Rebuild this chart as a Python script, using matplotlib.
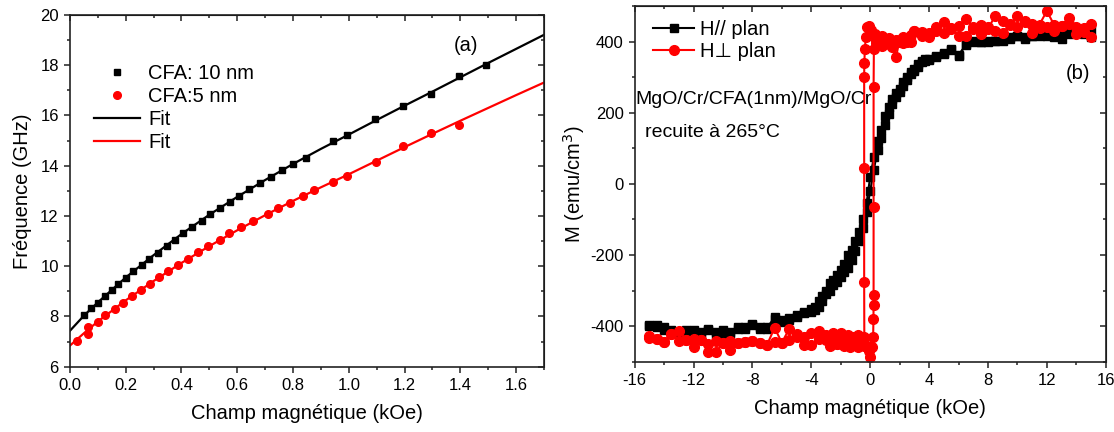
import matplotlib
matplotlib.use("Agg")
import matplotlib.pyplot as plt
from matplotlib.ticker import MultipleLocator

plt.rcParams['font.family'] = ['Liberation Sans', 'DejaVu Sans']
plt.rcParams['axes.unicode_minus'] = False

# (a) resonance frequency vs field
h10 = [0.051, 0.075, 0.099, 0.125, 0.149, 0.173, 0.2, 0.227, 0.257, 0.284, 0.314,
       0.347, 0.376, 0.404, 0.436, 0.472, 0.504, 0.538, 0.573, 0.607, 0.643, 0.681,
       0.72, 0.759, 0.8, 0.846, 0.944, 0.995, 1.093, 1.195, 1.294, 1.395, 1.493]
f10 = [8.06, 8.33, 8.55, 8.80, 9.06, 9.29, 9.55, 9.81, 10.05, 10.30, 10.54,
       10.80, 11.05, 11.31, 11.55, 11.80, 12.06, 12.31, 12.55, 12.81, 13.07, 13.31,
       13.56, 13.81, 14.06, 14.31, 15.00, 15.22, 15.86, 16.39, 16.86, 17.58, 17.99]
h5 = [0.024, 0.063, 0.066, 0.099, 0.125, 0.161, 0.191, 0.221, 0.254, 0.287, 0.320,
      0.352, 0.386, 0.422, 0.458, 0.496, 0.538, 0.571, 0.612, 0.657, 0.709, 0.747,
      0.789, 0.834, 0.875, 0.944, 0.995, 1.097, 1.195, 1.294, 1.395]
f5 = [7.04, 7.30, 7.57, 7.79, 8.05, 8.31, 8.55, 8.80, 9.06, 9.31, 9.56,
      9.81, 10.05, 10.30, 10.56, 10.81, 11.06, 11.31, 11.55, 11.80, 12.07, 12.31,
      12.51, 12.80, 13.04, 13.36, 13.60, 14.16, 14.79, 15.32, 15.62]
hfit = [0, 0.05, 0.1, 0.2, 0.3, 0.4, 0.5, 0.6, 0.7, 0.8, 0.9, 1.0,
        1.1, 1.2, 1.3, 1.4, 1.5, 1.6, 1.7]
fit10 = [7.43, 8.03, 8.56, 9.55, 10.44, 11.28, 12.05, 12.76, 13.43, 14.07, 14.67, 15.24,
         15.82, 16.39, 16.95, 17.52, 18.09, 18.65, 19.21]
fit5 = [6.84, 7.33, 7.80, 8.64, 9.41, 10.13, 10.80, 11.43, 12.03, 12.60, 13.14, 13.66,
        14.20, 14.74, 15.27, 15.79, 16.30, 16.81, 17.31]

# (b) hysteresis loops
hb = [-15, -14.5, -14, -13.5, -13, -12.5, -12, -11.5, -11, -10.5, -10, -9.5, -9, -8.5,
      -8, -7.5, -7, -6.5, -6, -5.5, -5, -4.5, -4,
      -3.75, -3.5, -3.25, -3, -2.75, -2.5, -2.25, -2, -1.75, -1.5, -1.25, -1, -0.75,
      -0.5, -0.25, 0, 0.25, 0.5, 0.75, 1, 1.25, 1.5, 1.75, 2, 2.25, 2.5, 2.75, 3,
      3.25, 3.5, 3.75, 4,
      4.5, 5, 5.5, 6, 6.5, 7, 7.5, 8, 8.5, 9, 9.5, 10, 10.5, 11, 11.5, 12, 12.5, 13,
      13.5, 14, 14.5, 15]
mb_up = [-398, -402, -412, -416, -420, -416, -412, -426, -407, -416, -421, -421, -402, -407,
         -398, -402, -407, -374, -388, -383, -374, -364, -360,
         -356, -346, -330, -310, -300, -285, -275, -262, -248, -237, -215, -190, -160,
         -125, -80, -20, 40, 95, 130, 165, 195, 225, 245, 258, 275, 292, 308, 318,
         328, 342, 346, 348,
         358, 365, 379, 362, 389, 398, 398, 398, 403, 403, 408, 417, 408, 417, 417, 426, 412, 408,
         422, 431, 426, 436]
mb_down = [-400, -398, -402, -412, -416, -412, -416, -416, -412, -421, -412, -416, -407, -402,
           -393, -407, -402, -380, -383, -378, -370, -360, -352,
           -345, -330, -315, -300, -280, -271, -255, -242, -225, -200, -185, -160, -135,
           -100, -55, 20, 75, 120, 152, 190, 215, 238, 255, 268, 285, 300, 315, 322,
           338, 346, 350, 352,
           360, 368, 375, 360, 393, 403, 398, 403, 403, 408, 412, 417, 412, 417, 422, 417, 418, 422,
           426, 428, 420, 412]

hr_down = [15, 14.5, 14, 13.5, 13, 12.5, 12, 11.5, 11, 10.5, 10, 9.5, 9, 8.5, 8, 7.5, 7,
           6.5, 6, 5.5, 5, 4.5, 4, 3.5, 3,
           2.75, 2.5, 2.25, 2, 1.75, 1.5, 1.25, 1,
           0.8, 0.6, 0.4, 0.2, 0.05,
           -0.1, -0.2, -0.3, -0.36, -0.4, -0.41, -0.41, -0.41, -0.4, -0.45,
           -0.6, -0.8, -1, -1.2, -1.4, -1.6, -1.8, -2,
           -2.25, -2.5, -2.75, -3,
           -3.5, -4, -4.5, -5, -5.5, -6, -6.5, -7, -7.5, -8, -8.5, -9, -9.5, -10, -10.5,
           -11, -11.5, -12, -12.5, -13, -13.5, -14, -14.5, -15]
mr_down = [414, 426, 422, 467, 445, 431, 441, 439, 450, 459, 441, 448, 424, 430, 441, 420, 436,
           417, 417, 436, 425, 430, 412, 427, 431,
           398, 410, 395, 405, 356, 400, 392, 408,
           388, 410, 396, 420, 432,
           445, 440, 412, 380, 340, 300, 45, -275, -430, -455,
           -440, -425, -448, -430, -460, -435, -445, -420,
           -450, -438, -455, -440,
           -437, -454, -431, -422, -408, -446, -445, -452, -446, -443, -445, -447, -443, -447, -441,
           -450, -439, -460, -439, -413, -422, -444, -435, -428]
hr_up = [-15, -14.5, -14, -13.5, -13, -12.5, -12, -11.5, -11, -10.5, -10, -9.5, -9, -8.5, -8,
         -7.5, -7, -6.5, -6, -5.5, -5, -4.5, -4, -3.5, -3,
         -2.75, -2.5, -2.25, -2, -1.75, -1.5, -1.25, -1,
         -0.8, -0.6, -0.4, -0.2, -0.1, 0, 0.1, 0.2,
         0.22, 0.23, 0.23, 0.23, 0.23, 0.25, 0.3, 0.4,
         0.6, 0.8, 1,
         1.25, 1.5, 1.75, 2, 2.25, 2.5, 2.75, 3,
         3.5, 4, 4.5, 5, 5.5, 6, 6.5, 7, 7.5, 8, 8.5, 9, 9.5, 10, 10.5, 11, 11.5, 12, 12.5,
         13, 13.5, 14, 14.5, 15]
mr_up = [-432, -435, -444, -422, -441, -439, -435, -439, -472, -474, -447, -468, -447, -445, -443,
         -446, -452, -405, -446, -440, -430, -454, -418, -415, -425,
         -445, -420, -450, -430, -455, -425, -448, -440,
         -460, -430, -450, -455, -470, -487, -460, -430,
         -380, -340, -312, -65, 271, 380, 420, 405,
         395, 415, 400,
         410, 385, 405, 398, 412, 400, 418, 431,
         415, 425, 440, 455, 438, 445, 464, 440, 448, 436, 473, 459, 450, 471, 455, 424, 448, 486,
         446, 445, 450, 441, 438, 450]

fig = plt.figure(figsize=(11.14, 4.32), dpi=100)
ax1 = fig.add_axes([0.0628, 0.1512, 0.4255, 0.8141])
ax2 = fig.add_axes([0.5697, 0.1627, 0.4229, 0.8234])


def style_axes(ax, xmaj, xmin, ymaj, ymin):
    ax.xaxis.set_major_locator(MultipleLocator(xmaj))
    ax.xaxis.set_minor_locator(MultipleLocator(xmin))
    ax.yaxis.set_major_locator(MultipleLocator(ymaj))
    ax.yaxis.set_minor_locator(MultipleLocator(ymin))
    ax.tick_params(which='both', direction='out', labelsize=12, width=1.1, color='#222222')
    ax.tick_params(which='major', length=4.5)
    ax.tick_params(which='minor', length=2.5)
    for s in ax.spines.values():
        s.set_linewidth(1.2)
        s.set_color('#222222')
    top = ax.secondary_xaxis('top')
    top.xaxis.set_major_locator(MultipleLocator(xmaj))
    top.xaxis.set_minor_locator(MultipleLocator(xmin))
    top.tick_params(which='both', direction='in', labeltop=False, width=1.1, color='#222222')
    top.tick_params(which='major', length=4.5)
    top.tick_params(which='minor', length=2.5)
    right = ax.secondary_yaxis('right')
    right.yaxis.set_major_locator(MultipleLocator(ymaj))
    right.yaxis.set_minor_locator(MultipleLocator(ymin))
    right.tick_params(which='both', direction='in', labelright=False, width=1.1, color='#222222')
    right.tick_params(which='major', length=4.5)
    right.tick_params(which='minor', length=2.5)


# panel (a)
ax1.plot(h10, f10, 's', color='black', ms=5, label='CFA: 10 nm')
ax1.plot(h5, f5, 'o', color='red', ms=5.5, label='CFA:5 nm')
ax1.plot(hfit, fit10, '-', color='black', lw=1.6, label='Fit')
ax1.plot(hfit, fit5, '-', color='red', lw=1.6, label='Fit')
ax1.set_xlim(0, 1.7)
ax1.set_ylim(6, 20)
style_axes(ax1, 0.2, 0.1, 2, 1)
ax1.set_xlabel('Champ magnétique (kOe)', fontsize=14.5, labelpad=8)
ax1.set_ylabel('Fréquence (GHz)', fontsize=14.5, labelpad=6)
ax1.text(1.42, 18.8, '(a)', fontsize=14.5, ha='center', va='center')
ax1.legend(loc='upper left', bbox_to_anchor=(0.02, 0.9), frameon=False, fontsize=14.5,
           handlelength=2.3, handletextpad=0.4, labelspacing=0.2, borderpad=0.2)

# panel (b)
ax2.plot(hb, mb_up, '-s', color='black', ms=6, lw=1.5, label='H// plan')
ax2.plot(hb[::-1], mb_down[::-1], '-s', color='black', ms=6, lw=1.5)
ax2.plot(hr_down, mr_down, '-o', color='red', ms=7, lw=1.5, label='H\u22a5 plan')
ax2.plot(hr_up, mr_up, '-o', color='red', ms=7, lw=1.5)
ax2.set_xlim(-16, 16)
ax2.set_ylim(-500, 500)
style_axes(ax2, 4, 2, 200, 100)
ax2.set_xlabel('Champ magnétique (kOe)', fontsize=14.5, labelpad=8)
ax2.set_ylabel('M (emu/cm$^3$)', fontsize=14.5, labelpad=2)
ax2.text(14.1, 309, '(b)', fontsize=14.5, ha='center', va='center')
ax2.text(-15.95, 238, 'MgO/Cr/CFA(1nm)/MgO/Cr', fontsize=14, ha='left', va='center')
ax2.text(-15.3, 145, 'recuite à 265°C', fontsize=14, ha='left', va='center')
ax2.legend(loc='upper left', bbox_to_anchor=(0.01, 1.0), frameon=False, fontsize=14.5,
           handlelength=2.0, handletextpad=0.3, labelspacing=0.15, borderpad=0.2)

fig.savefig('out.png', dpi=100)
